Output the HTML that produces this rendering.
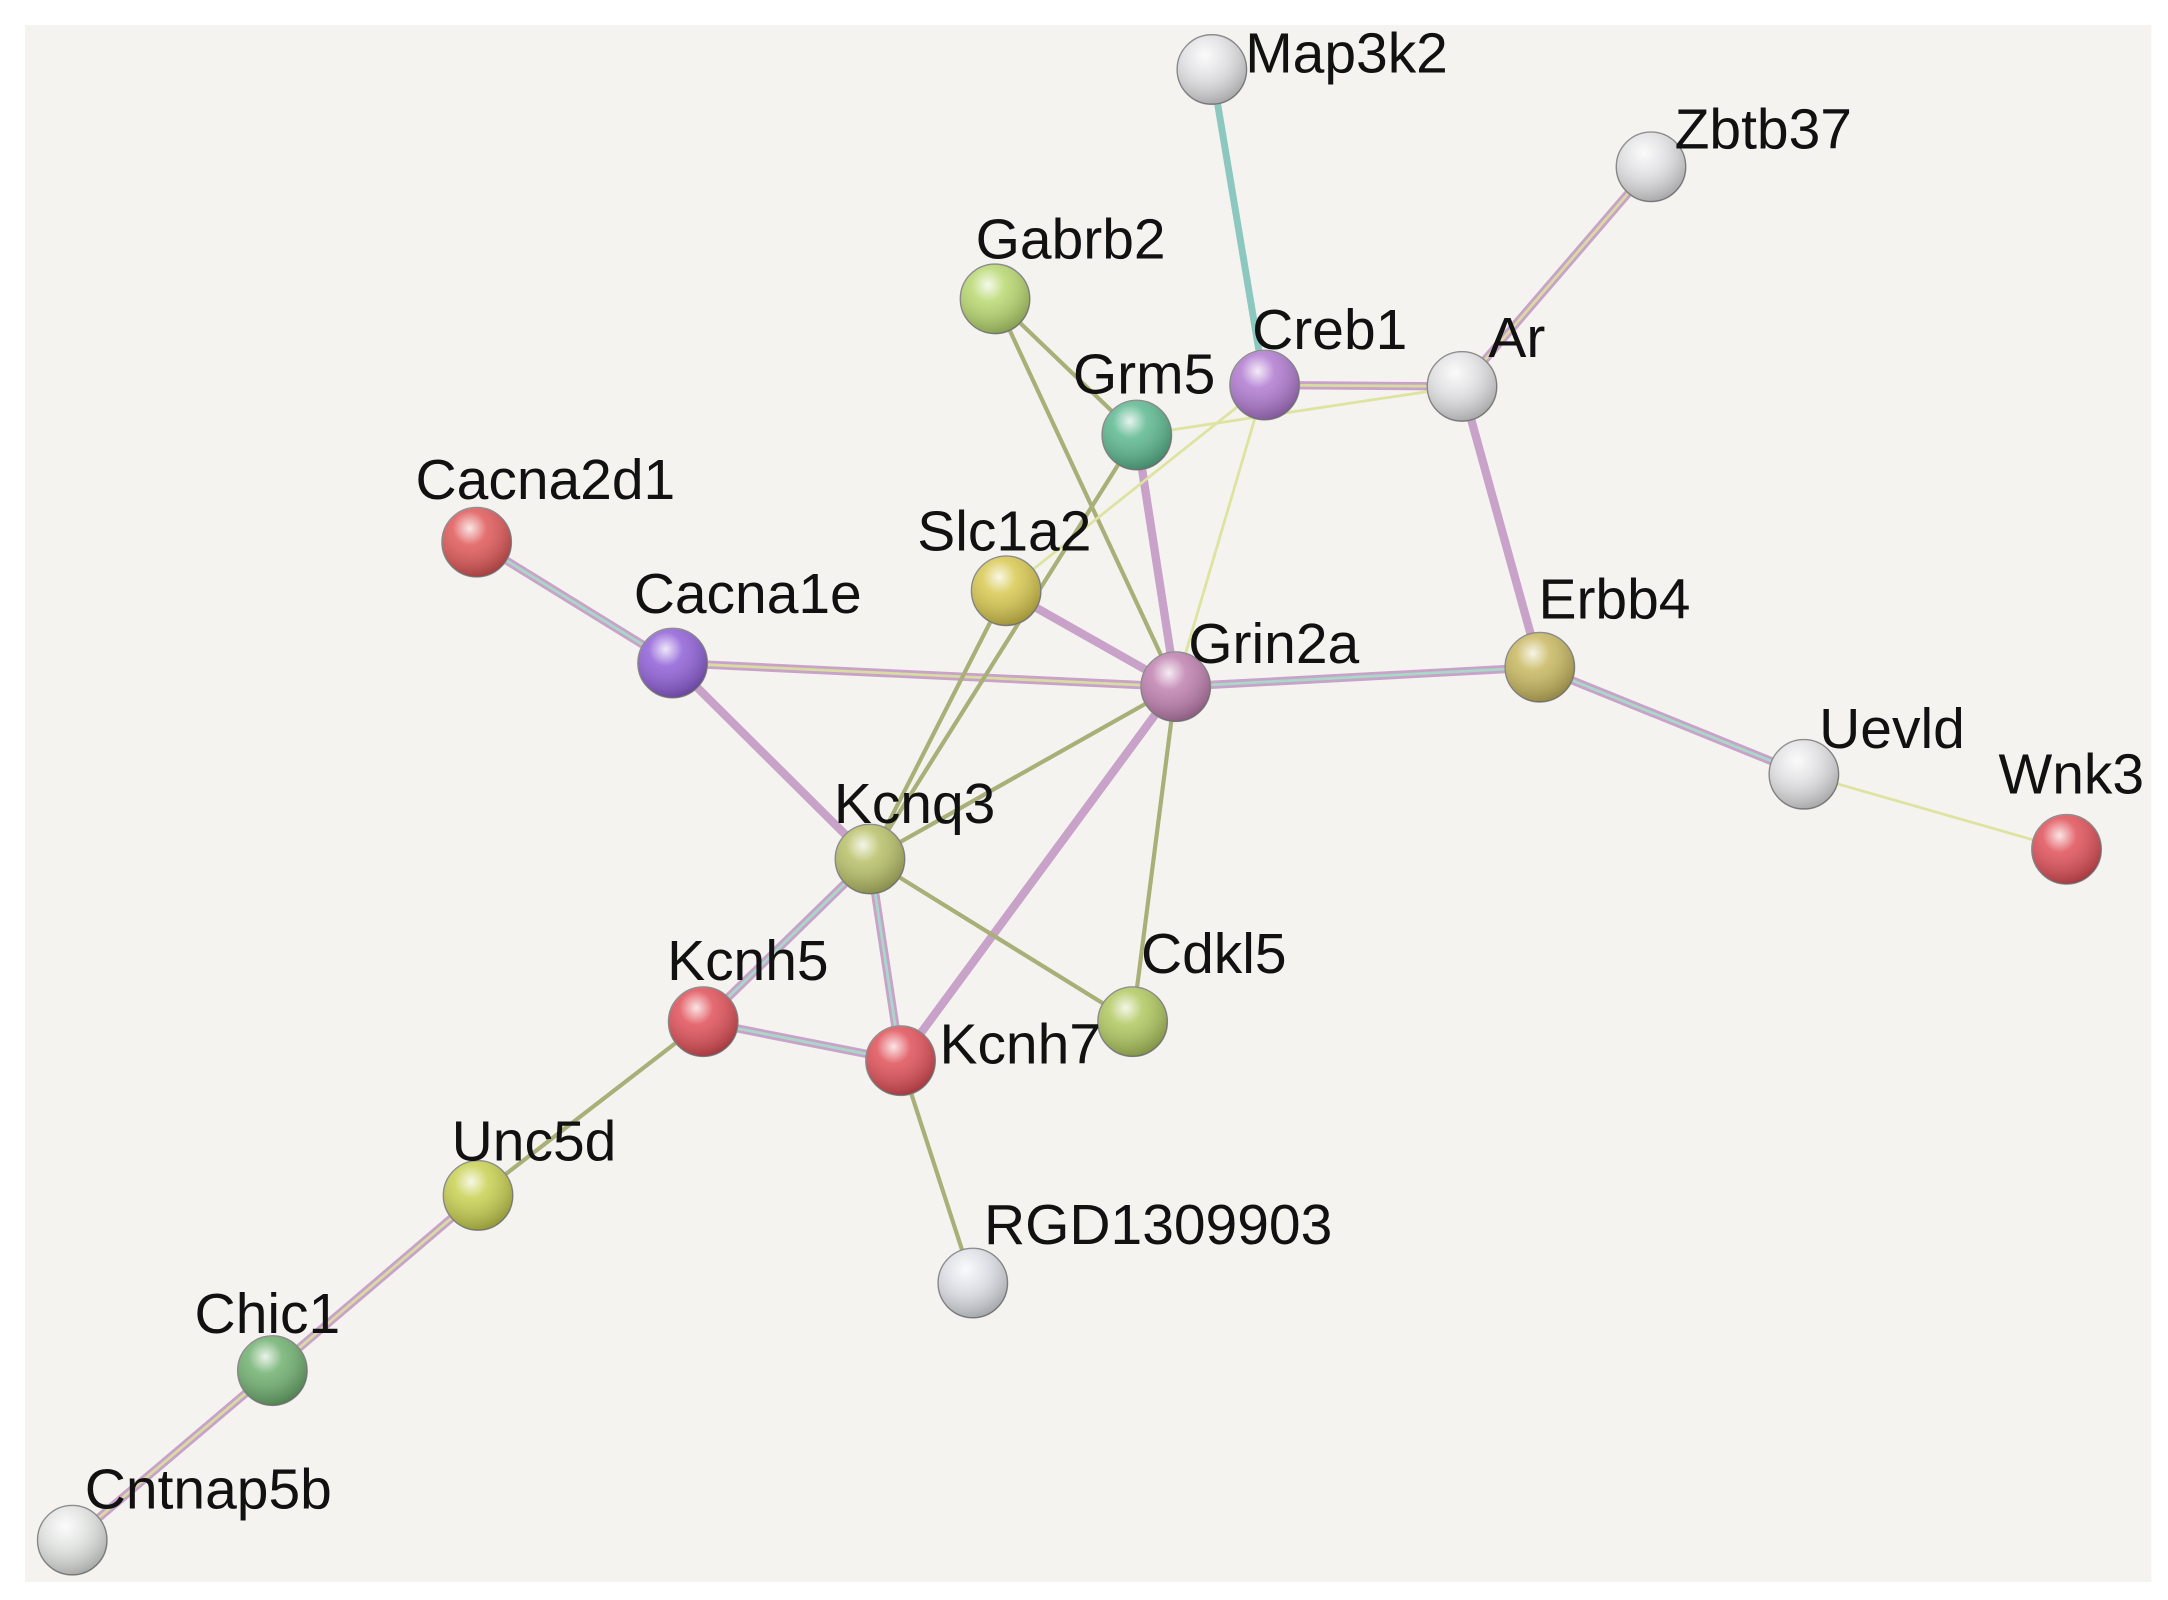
<!DOCTYPE html>
<html><head><meta charset="utf-8"><style>
html,body{margin:0;padding:0;background:#fff;}
svg{display:block}
text{font-family:"Liberation Sans",sans-serif;font-size:41px;fill:#111;}
</style></head><body>
<svg width="2168" height="1600" viewBox="0 0 1560 1151" preserveAspectRatio="none" xmlns="http://www.w3.org/2000/svg">
<defs>
<radialGradient id="sh" cx="0.4" cy="0.3" r="0.7">
<stop offset="0" stop-color="#fff" stop-opacity="0.85"/>
<stop offset="0.35" stop-color="#fff" stop-opacity="0.15"/>
<stop offset="1" stop-color="#000" stop-opacity="0.25"/>
</radialGradient>
</defs>
<rect x="18" y="18" width="1530" height="1120" fill="#f4f3f0"/>
<g stroke-linecap="round" fill="none">
<g stroke="#c8a2c8" stroke-width="6">
<line x1="910" y1="277" x2="1052" y2="278"/>
<line x1="1188" y1="120" x2="1052" y2="278"/>
<line x1="1052" y1="278" x2="1108" y2="480"/>
<line x1="818" y1="313" x2="846" y2="494"/>
<line x1="343" y1="390" x2="484" y2="477"/>
<line x1="484" y1="477" x2="846" y2="494"/>
<line x1="484" y1="477" x2="626" y2="618"/>
<line x1="724" y1="425" x2="846" y2="494"/>
<line x1="846" y1="494" x2="1108" y2="480"/>
<line x1="846" y1="494" x2="648" y2="763"/>
<line x1="1108" y1="480" x2="1298" y2="557"/>
<line x1="626" y1="618" x2="506" y2="735"/>
<line x1="626" y1="618" x2="648" y2="763"/>
<line x1="506" y1="735" x2="648" y2="763"/>
<line x1="344" y1="860" x2="196" y2="986"/>
<line x1="196" y1="986" x2="52" y2="1108"/>
</g>
<g stroke="#a8d8c8" stroke-width="2">
<line x1="343" y1="390" x2="484" y2="477"/>
<line x1="846" y1="494" x2="1108" y2="480"/>
<line x1="1108" y1="480" x2="1298" y2="557"/>
<line x1="626" y1="618" x2="506" y2="735"/>
<line x1="626" y1="618" x2="648" y2="763"/>
<line x1="506" y1="735" x2="648" y2="763"/>
<line x1="872" y1="50" x2="910" y2="277" stroke-width="5" stroke="#8cc8c0"/>
</g>
<g stroke="#d8dca0" stroke-width="2">
<line x1="910" y1="277" x2="1052" y2="278"/>
<line x1="1188" y1="120" x2="1052" y2="278"/>
<line x1="484" y1="477" x2="846" y2="494"/>
<line x1="344" y1="860" x2="196" y2="986"/>
<line x1="196" y1="986" x2="52" y2="1108"/>
</g>
<g stroke="#a8b078" stroke-width="3">
<line x1="716" y1="215" x2="846" y2="494"/>
<line x1="716" y1="215" x2="818" y2="313"/>
<line x1="818" y1="313" x2="626" y2="618"/>
<line x1="724" y1="425" x2="626" y2="618"/>
<line x1="846" y1="494" x2="626" y2="618"/>
<line x1="846" y1="494" x2="815" y2="735"/>
<line x1="626" y1="618" x2="815" y2="735"/>
<line x1="506" y1="735" x2="344" y2="860"/>
<line x1="648" y1="763" x2="700" y2="923"/>
</g>
<g stroke="#dce4a0" stroke-width="2">
<line x1="910" y1="277" x2="846" y2="494"/>
<line x1="1052" y1="278" x2="818" y2="313"/>
<line x1="910" y1="277" x2="724" y2="425"/>
<line x1="1298" y1="557" x2="1487" y2="611"/>
</g>
</g>
<g stroke="#888" stroke-width="1">
<circle cx="872" cy="50" r="25" fill="#e4e4e6"/>
<circle cx="1188" cy="120" r="25" fill="#e4e4e6"/>
<circle cx="716" cy="215" r="25" fill="#b8d870"/>
<circle cx="910" cy="277" r="25" fill="#b07ad0"/>
<circle cx="818" cy="313" r="25" fill="#5cb890"/>
<circle cx="1052" cy="278" r="25" fill="#e4e4e6"/>
<circle cx="343" cy="390" r="25" fill="#e05858"/>
<circle cx="724" cy="425" r="25" fill="#d8c850"/>
<circle cx="484" cy="477" r="25" fill="#9060d8"/>
<circle cx="846" cy="494" r="25" fill="#c080b0"/>
<circle cx="1108" cy="480" r="25" fill="#c8b860"/>
<circle cx="1298" cy="557" r="25" fill="#e4e4e6"/>
<circle cx="1487" cy="611" r="25" fill="#e05058"/>
<circle cx="626" cy="618" r="25" fill="#b8c068"/>
<circle cx="506" cy="735" r="25" fill="#e05058"/>
<circle cx="648" cy="763" r="25" fill="#e05058"/>
<circle cx="815" cy="735" r="25" fill="#b0c860"/>
<circle cx="344" cy="860" r="25" fill="#c8d050"/>
<circle cx="700" cy="923" r="25" fill="#e0e2e8"/>
<circle cx="196" cy="986" r="25" fill="#70b070"/>
<circle cx="52" cy="1108" r="25" fill="#e4e6e4"/>
</g>
<g fill="url(#sh)">
<circle cx="872" cy="50" r="25"/><circle cx="1188" cy="120" r="25"/><circle cx="716" cy="215" r="25"/>
<circle cx="910" cy="277" r="25"/><circle cx="818" cy="313" r="25"/><circle cx="1052" cy="278" r="25"/>
<circle cx="343" cy="390" r="25"/><circle cx="724" cy="425" r="25"/><circle cx="484" cy="477" r="25"/>
<circle cx="846" cy="494" r="25"/><circle cx="1108" cy="480" r="25"/><circle cx="1298" cy="557" r="25"/>
<circle cx="1487" cy="611" r="25"/><circle cx="626" cy="618" r="25"/><circle cx="506" cy="735" r="25"/>
<circle cx="648" cy="763" r="25"/><circle cx="815" cy="735" r="25"/><circle cx="344" cy="860" r="25"/>
<circle cx="700" cy="923" r="25"/><circle cx="196" cy="986" r="25"/><circle cx="52" cy="1108" r="25"/>
</g>
<text x="896" y="52">Map3k2</text>
<text x="1205" y="107">Zbtb37</text>
<text x="702" y="186">Gabrb2</text>
<text x="901" y="251">Creb1</text>
<text x="772" y="283">Grm5</text>
<text x="1071" y="257">Ar</text>
<text x="299" y="359">Cacna2d1</text>
<text x="660" y="396">Slc1a2</text>
<text x="456" y="441">Cacna1e</text>
<text x="855" y="477">Grin2a</text>
<text x="1107" y="445">Erbb4</text>
<text x="1309" y="538">Uevld</text>
<text x="1438" y="571">Wnk3</text>
<text x="600" y="592">Kcnq3</text>
<text x="480" y="705">Kcnh5</text>
<text x="676" y="765">Kcnh7</text>
<text x="821" y="700">Cdkl5</text>
<text x="325" y="835">Unc5d</text>
<text x="708" y="895">RGD1309903</text>
<text x="140" y="959">Chic1</text>
<text x="61" y="1085">Cntnap5b</text>
</svg>
</body></html>
